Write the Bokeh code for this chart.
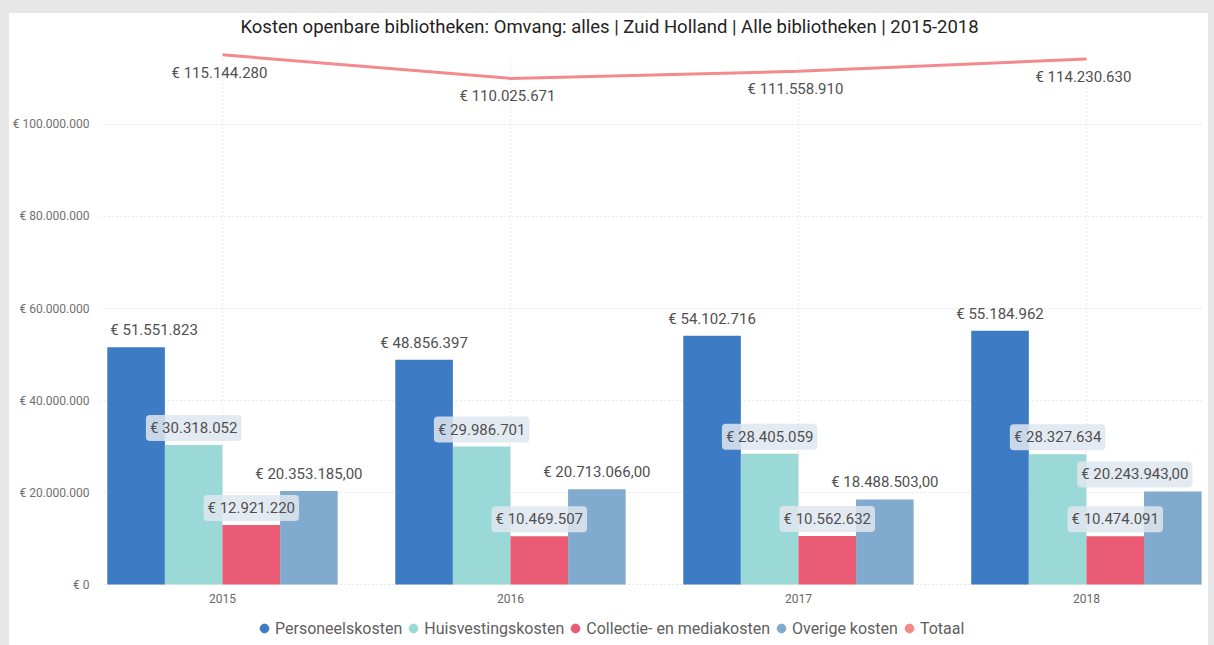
from bokeh.plotting import figure
from bokeh.models import ColumnDataSource, FixedTicker, Range1d, Legend, LegendItem, Label, Grid
from bokeh.core.properties import value
from bokeh.embed import file_html
from bokeh.resources import INLINE

# ---- data ----
years = ["2015", "2016", "2017", "2018"]
personeel = [51551823, 48856397, 54102716, 55184962]
huisvesting = [30318052, 29986701, 28405059, 28327634]
collectie = [12921220, 10469507, 10562632, 10474091]
overige = [20353185.00, 20713066.00, 18488503.00, 20243943.00]
totaal = [115144280, 110025671, 111558910, 114230630]
series_names = ["Personeelskosten", "Huisvestingskosten", "Collectie- en mediakosten", "Overige kosten", "Totaal"]
y_ticks = [0, 20000000, 40000000, 60000000, 80000000, 100000000]
title_text = "Kosten openbare bibliotheken: Omvang: alles | Zuid Holland | Alle bibliotheken | 2015-2018"

# ---- styles ----
colors = ["#3d7bc5", "#9ad9d7", "#ea5b74", "#80abcf", "#f38b8c"]
FONT = "Roboto"
LABEL_COLOR = "#505050"
# label boxes (series index x year index) and horizontal nudges in px (kept inside the plot)
boxed_flags = [
    [False] * 4,
    [True] * 4,
    [True] * 4,
    [False, False, False, True],
]
label_dx = {(0, 0): 18, (3, 3): -38}


def eur(v, decimals=False):
    if decimals:
        s = f"{v:,.2f}"
        s = s.replace(",", "X").replace(".", ",").replace("X", ".")
    else:
        s = f"{int(round(v)):,}".replace(",", ".")
    return "€ " + s


xs = list(range(len(years)))
width = 0.2
offsets = [-0.3, -0.1, 0.1, 0.3]
bar_series = [personeel, huisvesting, collectie, overige]

p = figure(width=1199, height=632, output_backend="svg", toolbar_location=None,
           x_range=Range1d(-0.4236, 3.41), y_range=Range1d(-13260000, 124130000),
           x_axis_location=None,
           min_border_left=91, min_border_right=4, min_border_top=0, min_border_bottom=0)
p.outline_line_color = None
p.background_fill_color = "white"
p.border_fill_color = "white"

# grids: drop any vertical grid, keep dotted horizontal grid at fixed ticks
p.center = [r for r in p.center if not (isinstance(r, Grid) and r.dimension == 0)]
p.ygrid.ticker = FixedTicker(ticks=y_ticks)
p.ygrid.grid_line_color = "#d3d3d3"
p.ygrid.grid_line_dash = "1 3"
p.ygrid.grid_line_width = 1

# vertical dotted gridlines at category centres
p.segment(x0=xs, y0=[0] * 4, x1=xs, y1=[max(totaal) * 0.997] * 4,
          line_color="#d3d3d3", line_dash="1 3", line_width=1)

# y axis
p.yaxis.ticker = FixedTicker(ticks=y_ticks)
p.yaxis.major_label_overrides = {t: eur(t) for t in y_ticks}
p.yaxis.axis_line_color = None
p.yaxis.major_tick_line_color = None
p.yaxis.minor_tick_line_color = None
p.yaxis.major_label_text_font = FONT
p.yaxis.major_label_text_font_size = "12px"
p.yaxis.major_label_text_color = "#707070"
p.yaxis.major_label_standoff = 5

# bars
for k, vals in enumerate(bar_series):
    bx = [x + offsets[k] for x in xs]
    p.vbar(x=bx, top=vals, width=width, color=colors[k], line_color=None)

# total line
p.line(x=xs, y=totaal, line_color=colors[4], line_width=3)

# category labels (x axis)
p.text(x=xs, y=[0] * 4, text=years, text_align="center", text_baseline="middle",
       y_offset=14, text_font=value(FONT), text_font_size="12px", text_color="#666666")

# bar labels
for k, vals in enumerate(bar_series):
    bx = [x + offsets[k] for x in xs]
    texts = [eur(v, decimals=(k == 3)) for v in vals]
    for flag in (False, True):
        idx = [i for i in range(4) if boxed_flags[k][i] == flag]
        if not idx:
            continue
        src = ColumnDataSource(dict(x=[bx[i] for i in idx], y=[vals[i] for i in idx],
                                    t=[texts[i] for i in idx],
                                    dx=[label_dx.get((k, i), 0) for i in idx]))
        kw = dict(background_fill_color="#dfe6ef", background_fill_alpha=0.85,
                  padding=4, border_radius=4) if flag else {}
        p.text(x="x", y="y", text="t", source=src, text_align="center", text_baseline="middle",
               x_offset="dx", y_offset=-17, text_font=value(FONT), text_font_size="15px",
               text_color=LABEL_COLOR, **kw)

# total labels
p.text(x=xs, y=totaal, text=[eur(v) for v in totaal], text_align="center", text_baseline="middle",
       x_offset=-3, y_offset=18, text_font=value(FONT), text_font_size="15px", text_color=LABEL_COLOR)

# title
p.add_layout(Label(x=1.344, y=121090000, text=title_text, text_align="center",
                   text_baseline="middle", text_font=FONT, text_font_size="18.5px",
                   text_color="#252423"))

# legend (circle markers)
items = []
for k, name in enumerate(series_names):
    r = p.scatter(x=[float("nan")], y=[float("nan")], marker="circle", color=colors[k], size=10)
    items.append(LegendItem(label=name, renderers=[r]))
legend = Legend(items=items, orientation="horizontal", location=(153, 5),
                label_text_font=FONT, label_text_font_size="16px", label_text_color="#606060",
                glyph_width=22, glyph_height=24, label_standoff=0, spacing=0,
                border_line_color=None, background_fill_alpha=0, margin=0, padding=0)
p.add_layout(legend)

html = file_html(p, INLINE)
html = html.replace("</head>",
                    "<style>html { background-color: #ffffff !important; }"
                    " body { background-color: #ffffff !important; margin: 0 !important; padding: 0 !important;"
                    " border-style: solid !important; border-color: #e7e7e7 !important;"
                    " border-width: 13px 6px 0 9px !important; }</style></head>", 1)
open("out.html", "w").write(html)
